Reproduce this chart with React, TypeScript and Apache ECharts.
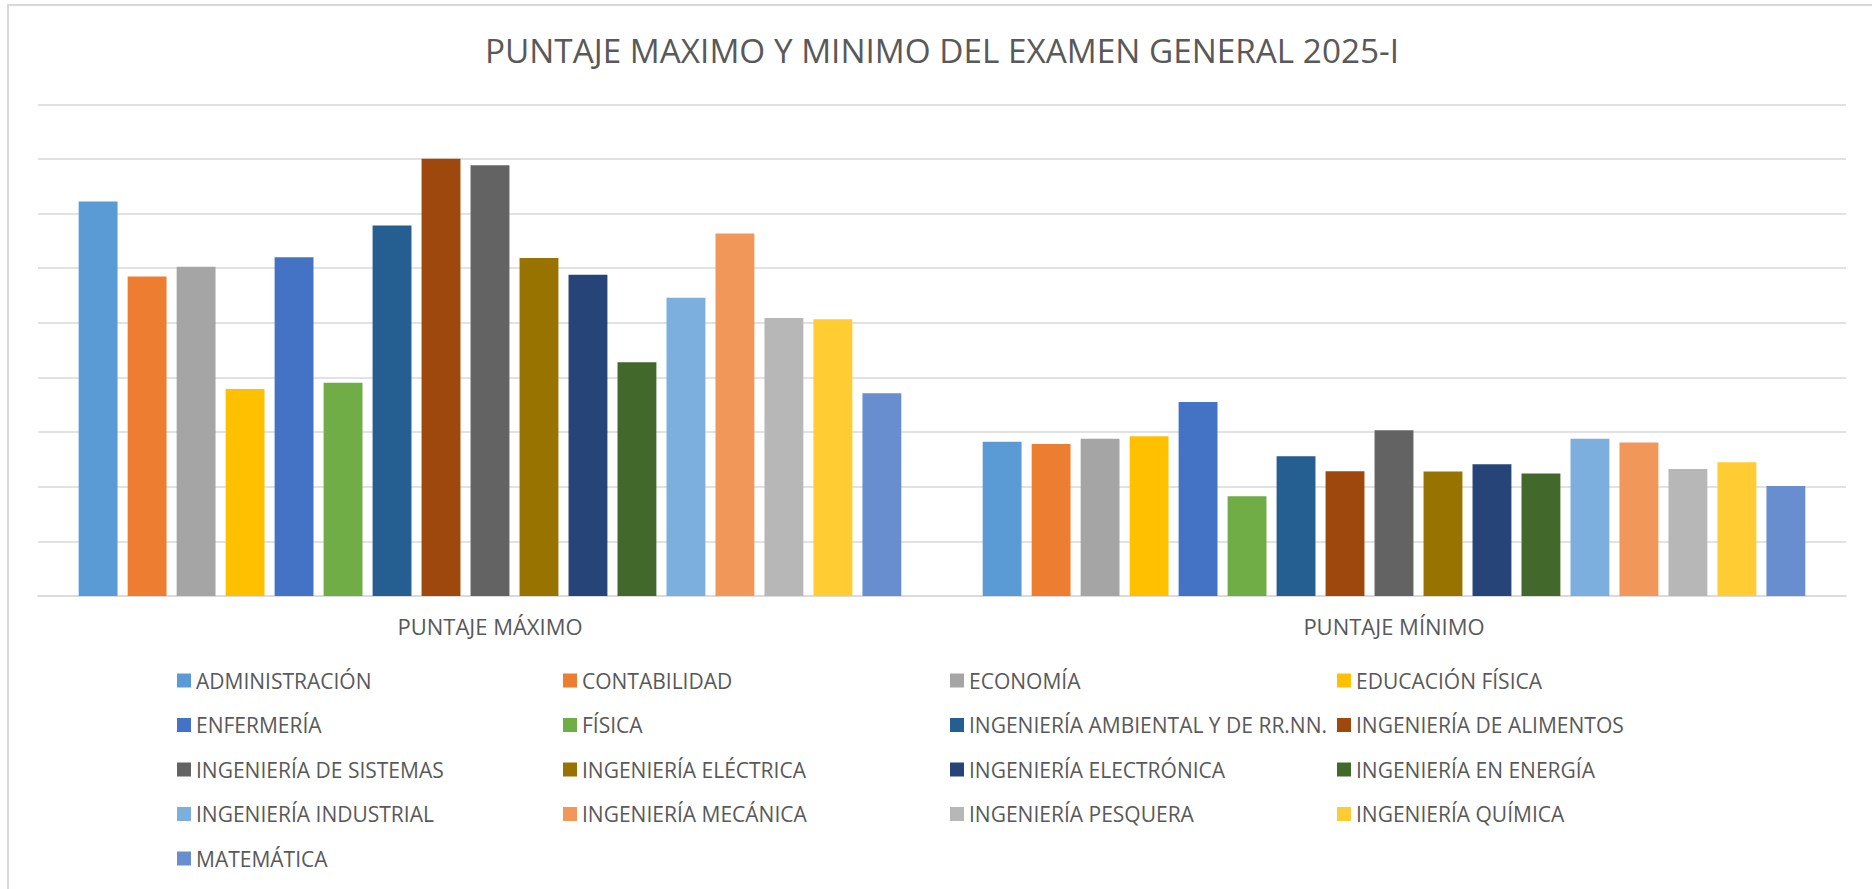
import React, { useEffect, useRef } from "react";
import * as echarts from "echarts";

const categories = ["PUNTAJE MÁXIMO", "PUNTAJE MÍNIMO"];

const programs = [
  "ADMINISTRACIÓN",
  "CONTABILIDAD",
  "ECONOMÍA",
  "EDUCACIÓN FÍSICA",
  "ENFERMERÍA",
  "FÍSICA",
  "INGENIERÍA AMBIENTAL Y DE RR.NN.",
  "INGENIERÍA DE ALIMENTOS",
  "INGENIERÍA DE SISTEMAS",
  "INGENIERÍA ELÉCTRICA",
  "INGENIERÍA ELECTRÓNICA",
  "INGENIERÍA EN ENERGÍA",
  "INGENIERÍA INDUSTRIAL",
  "INGENIERÍA MECÁNICA",
  "INGENIERÍA PESQUERA",
  "INGENIERÍA QUÍMICA",
  "MATEMÁTICA",
];

const maxScores = [144.4, 117.0, 120.5, 75.8, 124.0, 78.1, 135.6, 160.1, 157.7, 123.7, 117.6, 85.6, 109.2, 132.7, 101.8, 101.3, 74.2];
const minScores = [56.5, 55.6, 57.6, 58.5, 71.0, 36.5, 51.2, 45.7, 60.7, 45.6, 48.2, 44.8, 57.6, 56.2, 46.5, 49.0, 40.3];

const colors = [
  "#5B9BD5", "#ED7D31", "#A5A5A5", "#FFC000", "#4472C4", "#70AD47",
  "#255E91", "#9E480E", "#636363", "#997300", "#264478", "#43682B",
  "#7CAFDD", "#F1975A", "#B7B7B7", "#FFCD33", "#698ED0",
];

const TITLE = "PUNTAJE MAXIMO Y MINIMO DEL EXAMEN GENERAL 2025-I";
const FONT = "'Open Sans', 'Noto Sans', sans-serif";
const TEXT_COLOR = "#595959";
const GRID_COLOR = "#d9d9d9";

export default function App() {
  const ref = useRef<HTMLDivElement>(null);

  useEffect(() => {
    if (!ref.current) return;
    const chart = echarts.init(ref.current, undefined, { renderer: "svg" });

    const legendCols = [177, 563, 950, 1337];
    const legends = legendCols.map((x, c) => ({
      orient: "vertical" as const,
      left: x,
      top: 670,
      height: 215,
      itemWidth: 14,
      itemHeight: 14,
      itemGap: 23.5,
      icon: "rect",
      padding: 0,
      selectedMode: false,
      data: programs.filter((_, i) => i % 4 === c),
      textStyle: {
        fontFamily: FONT,
        fontSize: 21,
        color: TEXT_COLOR,
      },
    }));

    chart.setOption({
      animation: false,
      backgroundColor: "transparent",
      graphic: [
        {
          type: "text",
          x: 942,
          y: 49.5,
          style: {
            text: TITLE,
            fontFamily: FONT,
            fontSize: 33.3,
            fill: TEXT_COLOR,
            textAlign: "center",
            textVerticalAlign: "middle",
          },
        },
      ],
      legend: legends,
      grid: { left: 38, right: 26, top: 104.3, bottom: 293, containLabel: false },
      xAxis: {
        type: "category",
        data: categories,
        axisLine: { show: true, lineStyle: { color: GRID_COLOR, width: 1.5 } },
        axisTick: { show: false },
        axisLabel: {
          margin: 19,
          fontFamily: FONT,
          fontSize: 22,
          color: TEXT_COLOR,
        },
      },
      yAxis: {
        type: "value",
        min: 0,
        max: 180,
        interval: 20,
        axisLabel: { show: false },
        axisLine: { show: false },
        axisTick: { show: false },
        splitLine: { show: true, lineStyle: { color: GRID_COLOR, width: 1.5 } },
      },
      series: programs.map((name, i) => ({
        name,
        type: "bar",
        data: [maxScores[i], minScores[i]],
        barGap: "26%",
        barCategoryGap: "9%",
        itemStyle: { color: colors[i] },
      })),
    });

    return () => chart.dispose();
  }, []);

  return (
    <>
      <div
        style={{
          position: "fixed",
          left: 7,
          top: 4,
          width: 1865,
          height: 885,
          borderLeft: `2px solid ${GRID_COLOR}`,
          borderTop: `2px solid ${GRID_COLOR}`,
          boxSizing: "border-box",
          background: "#fff",
        }}
      />
      <div
        ref={ref}
        style={{ position: "fixed", left: 0, top: 0, width: 1872, height: 889 }}
      />
    </>
  );
}
